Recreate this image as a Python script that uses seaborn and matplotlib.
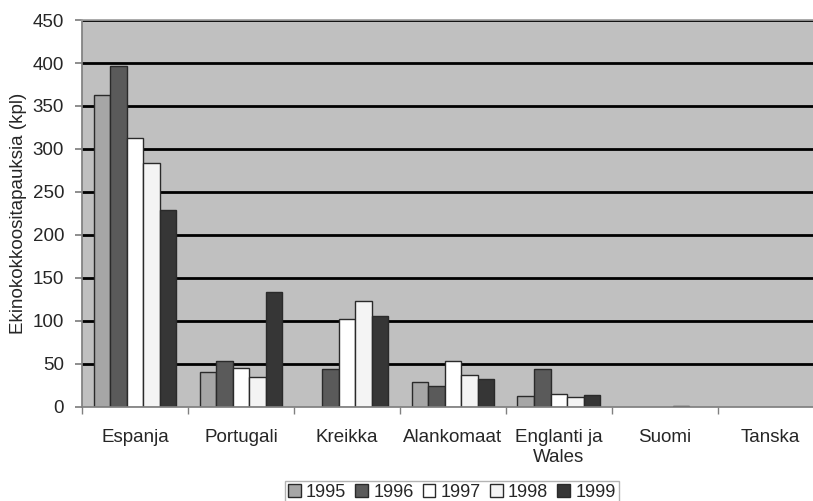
import numpy as np
import pandas as pd
import matplotlib
matplotlib.use("Agg")
import matplotlib.pyplot as plt
from matplotlib.ticker import FixedLocator
import seaborn as sns

maat = ["Espanja", "Portugali", "Kreikka", "Alankomaat", "Englanti ja\nWales", "Suomi", "Tanska"]
vuodet = ["1995", "1996", "1997", "1998", "1999"]
v1995 = [363, 40, np.nan, 29, 13, np.nan, np.nan]
v1996 = [396, 53, 44, 24, 44, np.nan, np.nan]
v1997 = [313, 45, 102, 53, 15, np.nan, np.nan]
v1998 = [284, 35, 123, 37, 11, 1, np.nan]
v1999 = [229, 134, 106, 32, 14, np.nan, np.nan]
y_ticks = [0, 50, 100, 150, 200, 250, 300, 350, 400, 450]

df = pd.DataFrame({"maa": maat, "1995": v1995, "1996": v1996, "1997": v1997,
                   "1998": v1998, "1999": v1999})
df = df.melt(id_vars="maa", var_name="vuosi", value_name="kpl")

sns.set_theme(style="white")
plt.rcParams["font.family"] = ["Liberation Sans", "DejaVu Sans"]

varit = ["#a6a6a6", "#5a5a5a", "#ffffff", "#f4f4f4", "#363636"]

fig = plt.figure(figsize=(8.13, 5.01), dpi=100)
ax = fig.add_axes([0.101, 0.188, 0.899, 0.772])
ax.set_facecolor("#c0c0c0")
ax.set_axisbelow(True)
for y in y_ticks[1:]:
    ax.axhline(y, color="black", lw=2, zorder=0.5)

sns.barplot(df, x="maa", y="kpl", hue="vuosi", hue_order=vuodet, order=maat,
            palette=varit, width=0.78, edgecolor="#2a2a2a", linewidth=1,
            saturation=1, ax=ax, zorder=2)

ax.set_ylim(0, 450)
ax.set_xlim(-0.5, 6.4)
ax.set_yticks(y_ticks)
ax.tick_params(axis="y", labelsize=13.5, length=5, color="#808080", left=True, pad=8)
ax.tick_params(axis="x", which="major", length=0, labelsize=13.5, pad=16)
ax.xaxis.set_minor_locator(FixedLocator(np.arange(-0.5, 7, 1)))
ax.tick_params(axis="x", which="minor", length=5, color="#808080", bottom=True)
ax.set_xlabel("")
ax.set_ylabel("Ekinokokkoositapauksia (kpl)", fontsize=13.5, labelpad=4)
for s in ["left", "bottom"]:
    ax.spines[s].set_color("#808080")
ax.spines["top"].set_color("#a0a0a0")
ax.spines["right"].set_visible(False)

ax.legend(loc="upper center", bbox_to_anchor=(0.506, -0.192), ncol=5,
          fontsize=13, frameon=True, fancybox=False, edgecolor="#a0a0a0",
          handlelength=0.7, handleheight=0.7, handletextpad=0.3,
          columnspacing=0.5, borderpad=0.15, borderaxespad=0)

fig.savefig("out.png", dpi=100)
